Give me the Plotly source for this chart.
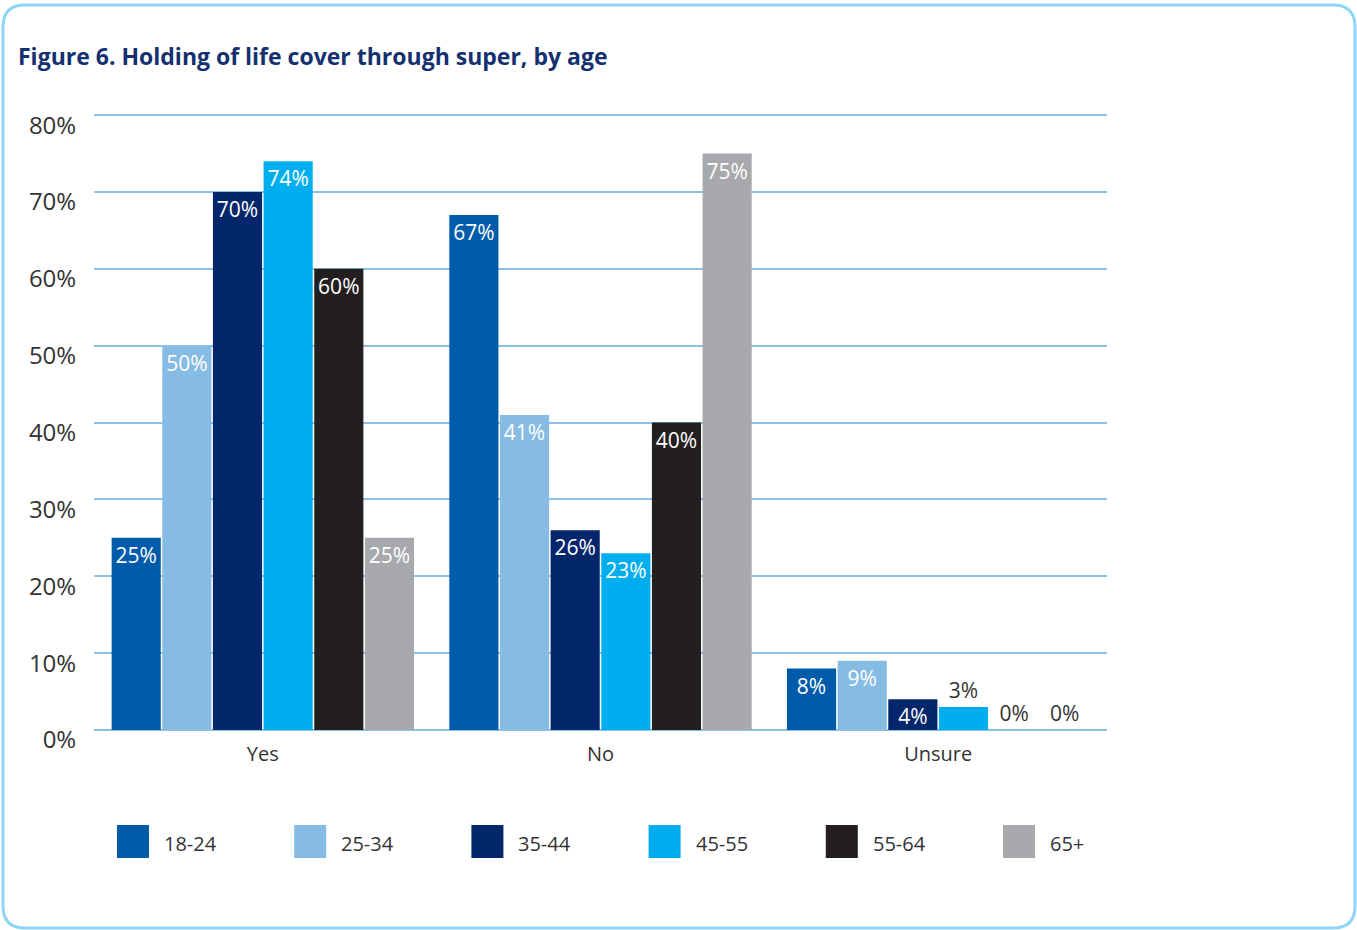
import plotly.graph_objects as go

# Response categories and age groups
categories = ["Yes", "No", "Unsure"]
age_groups = ["18-24", "25-34", "35-44", "45-55", "55-64", "65+"]

# Share of respondents (%) per age group, ordered as categories
pct_18_24 = [25, 67, 8]
pct_25_34 = [50, 41, 9]
pct_35_44 = [70, 26, 4]
pct_45_55 = [74, 23, 3]
pct_55_64 = [60, 40, 0]
pct_65_plus = [25, 75, 0]

series = [pct_18_24, pct_25_34, pct_35_44, pct_45_55, pct_55_64, pct_65_plus]
colors = ["#005BAA", "#86BBE4", "#04266A", "#00AEEF", "#231F20", "#A7A9AC"]

y_ticks = [0, 10, 20, 30, 40, 50, 60, 70, 80]

W, H = 1357, 930
L, R, T, B = 94, 250, 114, 200
PW, PH = W - L - R, H - T - B


def px_x(px):
    return (px - L) / PW


def px_y(py):
    return (H - B - py) / PH


LABEL_FONT = "Open Sans"
fig = go.Figure()

for name, vals, col in zip(age_groups, series, colors):
    # values too small to hold their label get it printed above the bar
    positions = ["inside" if v >= 4 else "outside" for v in vals]
    fig.add_trace(go.Bar(
        x=categories, y=vals, name=name,
        marker=dict(color=col, line=dict(width=0)),
        text=[f"{v}%" for v in vals],
        textposition=positions,
        insidetextanchor="end",
        textangle=0,
        constraintext="none",
        cliponaxis=False,
        insidetextfont=dict(family=LABEL_FONT, size=21, color="#FFFFFF"),
        outsidetextfont=dict(family=LABEL_FONT, size=21, color="#333333"),
        showlegend=False,
        hoverinfo="skip",
    ))

shapes = []
annotations = []

# rounded frame around the figure
x0, x1, y0, y1, r = 3, 1355, 5, 928, 22
path = (
    f"M {px_x(x0 + r)} {px_y(y0)} L {px_x(x1 - r)} {px_y(y0)} "
    f"Q {px_x(x1)} {px_y(y0)} {px_x(x1)} {px_y(y0 + r)} "
    f"L {px_x(x1)} {px_y(y1 - r)} "
    f"Q {px_x(x1)} {px_y(y1)} {px_x(x1 - r)} {px_y(y1)} "
    f"L {px_x(x0 + r)} {px_y(y1)} "
    f"Q {px_x(x0)} {px_y(y1)} {px_x(x0)} {px_y(y1 - r)} "
    f"L {px_x(x0)} {px_y(y0 + r)} "
    f"Q {px_x(x0)} {px_y(y0)} {px_x(x0 + r)} {px_y(y0)} Z"
)
shapes.append(dict(type="path", xref="paper", yref="paper", path=path,
                   line=dict(color="#8FD6F6", width=3), fillcolor="rgba(0,0,0,0)",
                   layer="above"))

# legend: colour squares with labels along the bottom
for i, (name, col) in enumerate(zip(age_groups, colors)):
    lx = 117 + i * 177.2
    shapes.append(dict(type="rect", xref="paper", yref="paper",
                       x0=px_x(lx), x1=px_x(lx + 32), y0=px_y(858), y1=px_y(825),
                       fillcolor=col, line=dict(width=0)))
    annotations.append(dict(xref="paper", yref="paper", x=px_x(lx + 45), y=px_y(843),
                            text=name, showarrow=False, xanchor="left", yanchor="middle",
                            font=dict(family=LABEL_FONT, size=20, color="#333333")))

# figure title
annotations.append(dict(xref="paper", yref="paper", x=px_x(16), y=px_y(56),
                        text="<b>Figure 6. Holding of life cover through super, by age</b>",
                        showarrow=False, xanchor="left", yanchor="middle",
                        font=dict(family="Open Sans", size=23, color="#14306F")))

fig.update_layout(
    width=W, height=H,
    margin=dict(l=L, r=R, t=T, b=B),
    paper_bgcolor="white", plot_bgcolor="white",
    barmode="group", bargap=0.1, bargroupgap=0.03,
    shapes=shapes, annotations=annotations,
    xaxis=dict(showgrid=False, zeroline=False, showline=False,
               tickfont=dict(family=LABEL_FONT, size=20, color="#333333"),
               ticks="outside", ticklen=6, tickcolor="rgba(0,0,0,0)"),
    yaxis=dict(range=[0, 80.15], tickvals=y_ticks, ticktext=[f"{v}%" for v in y_ticks],
               showgrid=True, gridcolor="#8CC0E6", gridwidth=1.5,
               zeroline=True, zerolinecolor="#8CC0E6", zerolinewidth=1.5,
               showline=False, ticklabelshift=10,
               tickfont=dict(family=LABEL_FONT, size=24, color="#333333"),
               ticks="outside", ticklen=12, tickcolor="rgba(0,0,0,0)"),
)

fig.write_html("out.html")
